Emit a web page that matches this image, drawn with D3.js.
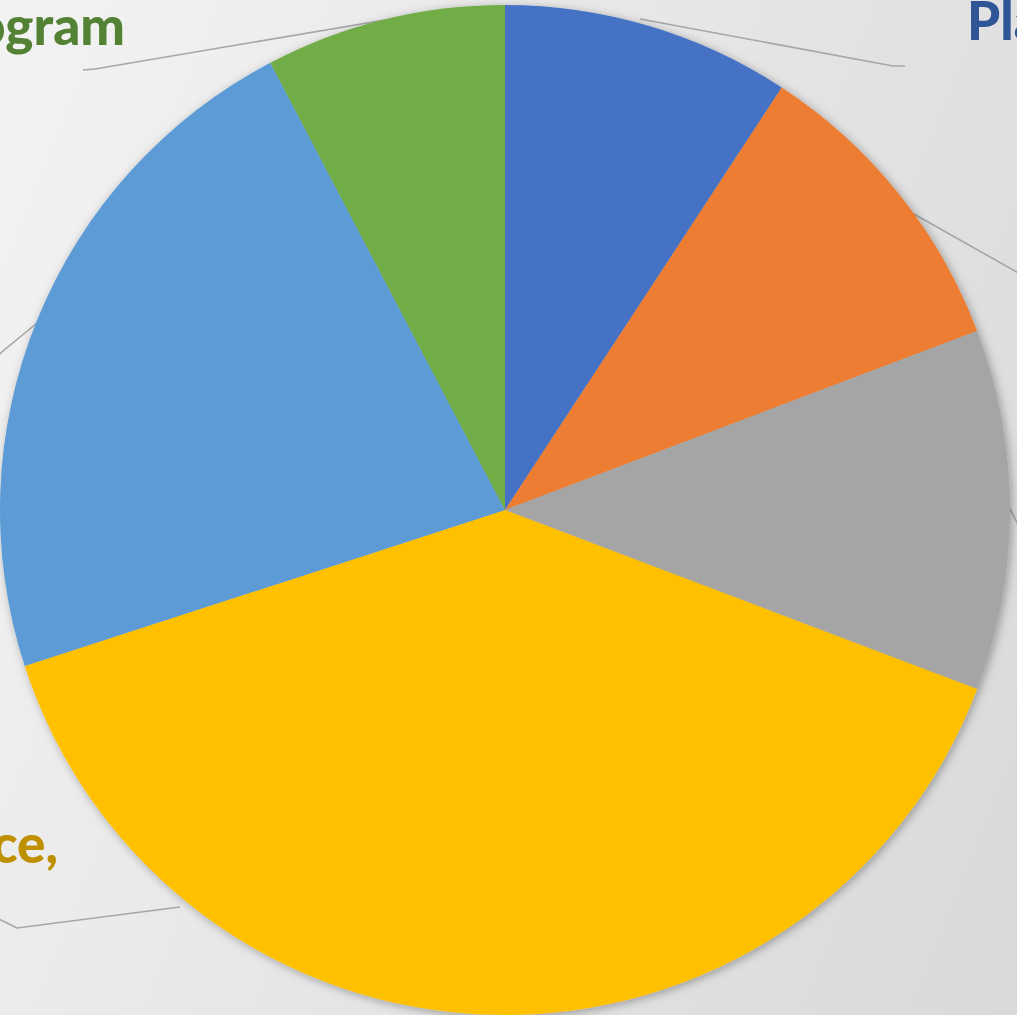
<!DOCTYPE html>
<html>
<head>
<meta charset="utf-8">
<script src="https://cdn.jsdelivr.net/npm/d3@7"></script>
<style>
  html, body { margin: 0; padding: 0; overflow: hidden; }
  svg { display: block; }
</style>
</head>
<body>
<svg id="chart" width="1017" height="1015"></svg>
<script>
// Budget share by department (counts)
const categories = ["Planning", "Operations", "Facilities", "Maintenance,", "Administration", "Program"];
const values = [12, 13, 15, 51, 29, 10];
const sliceColors = ["#4472C4", "#ED7D31", "#A5A5A5", "#FFC000", "#5B9BD5", "#70AD47"];
const labelColors = ["#2F5597", "#C55A11", "#7B7B7B", "#BF9000", "#2E75B6", "#548235"];

// label placement and leader-line routing (null label = label falls outside the view)
const labelLayout = [
  { x: 967, y: 40, anchor: "start", line: [[905, 66], [893, 66], [640, 19]] },
  { x: null, line: [[1040, 285], [912, 213]] },
  { x: null, line: [[1030, 548], [1008, 505]] },
  { x: 58, y: 863, anchor: "end", line: [[-40, 900], [17, 928], [180, 907]] },
  { x: null, line: [[-20, 370], [37, 323]] },
  { x: 125, y: 45, anchor: "end", line: [[83, 70], [95, 69], [385, 20]] }
];

const W = 1017, H = 1015;
const cx = 505, cy = 510, R = 505;

const svg = d3.select("#chart");
const defs = svg.append("defs");

const bg = defs.append("linearGradient")
  .attr("id", "bgGrad")
  .attr("gradientUnits", "userSpaceOnUse")
  .attr("x1", 0).attr("y1", 0).attr("x2", 1226).attr("y2", 490);
bg.append("stop").attr("offset", "0%").attr("stop-color", "#f3f3f3");
bg.append("stop").attr("offset", "100%").attr("stop-color", "#d9d9d9");

const shadow = defs.append("filter")
  .attr("id", "pieShadow")
  .attr("x", "-10%").attr("y", "-10%").attr("width", "120%").attr("height", "120%");
shadow.append("feDropShadow")
  .attr("dx", 2).attr("dy", 2).attr("stdDeviation", 5)
  .attr("flood-color", "#000").attr("flood-opacity", 0.32);

svg.append("rect").attr("width", W).attr("height", H).attr("fill", "url(#bgGrad)");

// leader lines sit beneath the pie
const lineGen = d3.line();
svg.append("g").selectAll("path")
  .data(labelLayout)
  .join("path")
  .attr("d", d => lineGen(d.line))
  .attr("fill", "none")
  .attr("stroke", "#a6a6a6")
  .attr("stroke-width", 1.6);

const pie = d3.pie().sort(null).value(d => d)(values);
const arc = d3.arc().innerRadius(0).outerRadius(R);

const g = svg.append("g")
  .attr("transform", `translate(${cx},${cy})`)
  .attr("filter", "url(#pieShadow)");

g.selectAll("path")
  .data(pie)
  .join("path")
  .attr("d", arc)
  .attr("fill", (d, i) => sliceColors[i]);

// data labels
const shown = categories
  .map((name, i) => ({ name, i, pos: labelLayout[i] }))
  .filter(d => d.pos.x !== null);

svg.append("g").selectAll("text")
  .data(shown)
  .join("text")
  .attr("x", d => d.pos.x)
  .attr("y", d => d.pos.y)
  .attr("text-anchor", d => d.pos.anchor)
  .attr("fill", d => labelColors[d.i])
  .style("font-family", "Lato, 'Open Sans', sans-serif")
  .style("font-weight", "900")
  .style("font-size", "53px")
  .text(d => d.name);
</script>
</body>
</html>
